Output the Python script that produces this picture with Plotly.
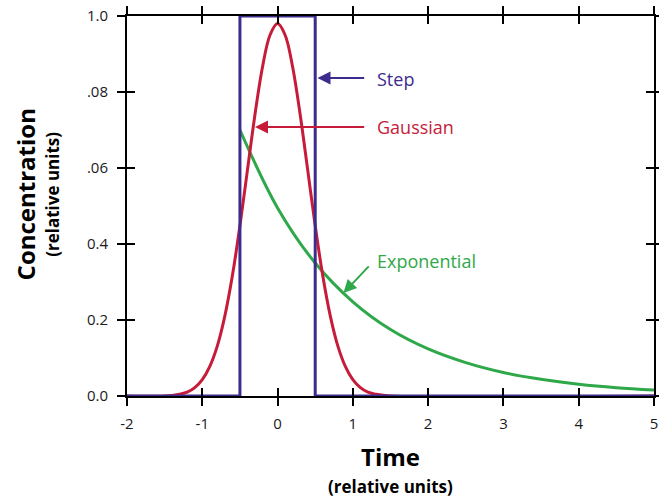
import plotly.graph_objects as go

# ---- data ----
step_x = [-2, -0.5, -0.5, 0.5, 0.5, 5]
step_y = [0, 0, 1.0, 1.0, 0, 0]

gauss_x = [-2.0, -1.5, -1.3, -1.2, -1.1, -1.0, -0.9, -0.8, -0.7, -0.6, -0.5, -0.4, -0.3, -0.2, -0.1, 0.0,
           0.1, 0.2, 0.3, 0.4, 0.5, 0.6, 0.7, 0.8, 0.9, 1.0, 1.1, 1.2, 1.3, 1.5, 5.0]
gauss_y = [0.0, 0.0, 0.005, 0.01, 0.022, 0.043, 0.078, 0.132, 0.211, 0.317, 0.448, 0.595, 0.741, 0.866, 0.950, 0.98,
           0.950, 0.866, 0.741, 0.595, 0.448, 0.317, 0.211, 0.132, 0.078, 0.043, 0.022, 0.01, 0.005, 0.0, 0.0]

exp_x = [-0.5, 0.0, 0.5, 1.0, 1.5, 2.0, 2.5, 3.0, 3.5, 4.0, 4.5, 5.0]
exp_y = [0.70, 0.495, 0.35, 0.248, 0.175, 0.124, 0.088, 0.062, 0.044, 0.031, 0.022, 0.016]

x_ticks = [-2, -1, 0, 1, 2, 3, 4, 5]
x_ticktext = ["-2", "-1", "0", "1", "2", "3", "4", "5"]
y_ticks = [0.0, 0.2, 0.4, 0.6, 0.8, 1.0]
y_ticktext = ["0.0", "0.2", "0.4", ".06", ".08", "1.0"]

STEP_C = "#3d2b8e"
GAUSS_C = "#c61c3a"
EXP_C = "#2fa84a"
FONT = "Open Sans"

fig = go.Figure()
fig.add_trace(go.Scatter(x=exp_x, y=exp_y, mode="lines", line=dict(color=EXP_C, width=3, shape="spline"),
                         showlegend=False, hoverinfo="skip"))
fig.add_trace(go.Scatter(x=gauss_x, y=gauss_y, mode="lines", line=dict(color=GAUSS_C, width=3, shape="spline"),
                         showlegend=False, hoverinfo="skip"))
fig.add_trace(go.Scatter(x=step_x, y=step_y, mode="lines", line=dict(color=STEP_C, width=3),
                         showlegend=False, hoverinfo="skip"))
# empty trace so the overlay axes are drawn
fig.add_trace(go.Scatter(x=[], y=[], xaxis="x2", yaxis="y2", showlegend=False))

axis_common = dict(showgrid=False, zeroline=False, showline=True, linecolor="black", linewidth=2,
                   tickcolor="black", tickwidth=2, ticklen=8, mirror="ticks", automargin=False)

fig.update_layout(
    width=659, height=499,
    margin=dict(l=127, r=5, t=16, b=103, autoexpand=False),
    paper_bgcolor="white", plot_bgcolor="white",
    font=dict(family=FONT, color="#1a1a1a", size=15),
    xaxis=dict(range=[-2, 5], tickvals=x_ticks, ticktext=x_ticktext, ticks="outside",
               tickfont=dict(size=15), ticklabelstandoff=5, **axis_common),
    yaxis=dict(range=[0, 1], tickvals=y_ticks, ticktext=y_ticktext, ticks="outside",
               tickfont=dict(size=15), ticklabelstandoff=6, **axis_common),
    xaxis2=dict(range=[-2, 5], tickvals=x_ticks, showticklabels=False, ticks="inside",
                overlaying="x", anchor="y2", side="bottom", **axis_common),
    yaxis2=dict(range=[0, 1], tickvals=y_ticks, showticklabels=False, ticks="inside",
                overlaying="y", anchor="x2", side="left", **axis_common),
)

annos = []
# arrows
for (hx, hy, tx, ty, c) in [(0.53, 0.837, 1.17, 0.837, STEP_C),
                            (-0.30, 0.708, 1.17, 0.708, GAUSS_C),
                            (0.875, 0.271, 1.23, 0.345, EXP_C)]:
    annos.append(dict(x=hx, y=hy, ax=tx, ay=ty, xref="x", yref="y", axref="x", ayref="y",
                      text="", showarrow=True, arrowhead=2, arrowsize=1.3, arrowwidth=2,
                      arrowcolor=c, standoff=0))
# labels
for (lx, ly, t, c) in [(1.30, 0.835, "Step", STEP_C),
                       (1.30, 0.708, "Gaussian", GAUSS_C),
                       (1.30, 0.355, "Exponential", EXP_C)]:
    annos.append(dict(x=lx, y=ly, xref="x", yref="y", text=t, showarrow=False,
                      xanchor="left", yanchor="middle", font=dict(size=18, color=c, family=FONT)))
# axis titles
annos.append(dict(x=0.5, y=-0.158, xref="paper", yref="paper", xanchor="center", yanchor="middle",
                  text="<b>Time</b>", showarrow=False, font=dict(size=24, color="black", family=FONT)))
annos.append(dict(x=0.5, y=-0.239, xref="paper", yref="paper", xanchor="center", yanchor="middle",
                  text="<b>(relative units)</b>", showarrow=False, font=dict(size=17, color="black", family=FONT)))
annos.append(dict(x=-0.192, y=0.53, xref="paper", yref="paper", xanchor="center", yanchor="middle",
                  text="<b>Concentration</b>", textangle=-90, showarrow=False,
                  font=dict(size=24, color="black", family=FONT)))
annos.append(dict(x=-0.142, y=0.53, xref="paper", yref="paper", xanchor="center", yanchor="middle",
                  text="<b>(relative units)</b>", textangle=-90, showarrow=False,
                  font=dict(size=17, color="black", family=FONT)))
fig.update_layout(annotations=annos)

fig.write_html("out.html", config={"displayModeBar": False},
               post_script="document.body.style.margin='0';document.body.style.overflow='hidden';")
